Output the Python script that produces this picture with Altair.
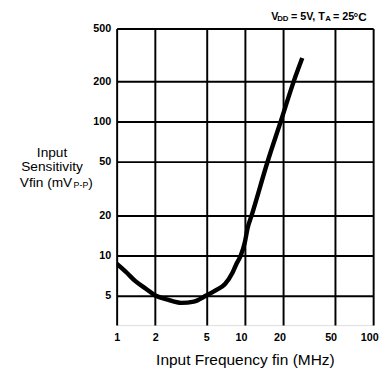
import altair as alt
import pandas as pd

# Data (log-log curve)
freq_mhz = [1, 1.2, 1.4, 1.7, 2, 2.5, 3.2, 4, 5, 6, 7, 8, 8.6, 9.3, 10, 10.5, 11.3, 15, 19, 24, 28]
vfin_mv = [8.65, 7.4, 6.4, 5.6, 5.0, 4.65, 4.4, 4.5, 5.0, 5.5, 6.1, 7.4, 8.65, 10, 12.6, 16, 20, 50, 100, 200, 300]

x_ticks = [1, 2, 5, 10, 20, 50, 100]
y_ticks = [5, 10, 20, 50, 100, 200, 500]

FONT = "Liberation Sans"
W, H = 262, 303

df = pd.DataFrame({"f": freq_mhz, "v": vfin_mv})

base = alt.Chart(df)

line = base.mark_line(color="black", strokeWidth=4.5, interpolate="monotone", clip=True).encode(
    x=alt.X("f:Q",
            scale=alt.Scale(type="log", domain=[1, 100], nice=False),
            axis=alt.Axis(values=x_ticks, format="d", title="Input Frequency fin (MHz)",
                          grid=True, gridColor="black", gridWidth=2, gridOpacity=1,
                          domain=False, ticks=False, labelPadding=7,
                          labelOffset={"condition": {"test": "datum.value >= 10", "value": -4}, "value": 0},
                          labelFontSize=11, labelFontWeight="bold", labelFont=FONT,
                          labelColor="black", labelFlush=False,
                          titleFont=FONT, titleFontSize=15.8, titleFontWeight="normal",
                          titleColor="black", titlePadding=10)),
    y=alt.Y("v:Q",
            scale=alt.Scale(type="log", domain=[3, 500], nice=False),
            axis=alt.Axis(values=y_ticks, format="d", title=None,
                          grid=True, gridColor="black", gridWidth=2, gridOpacity=1,
                          domain=False, ticks=False, labelPadding=6,
                          labelFontSize=11, labelFontWeight="bold", labelFont=FONT,
                          labelColor="black")),
)

one = pd.DataFrame({"k": [0]})


def txt(s, x, y, size, align="left", weight="normal"):
    return alt.Chart(one).mark_text(
        text=s, font=FONT, fontSize=size, align=align, baseline="middle",
        color="black", fontWeight=weight
    ).encode(x=alt.value(x), y=alt.value(y))


# y-axis title (three lines, with subscript), page coords minus plot origin (119, 25)
ytitle = [
    txt("Input", -66, 127, 14, align="center"),
    txt("Sensitivity", -66, 142, 14, align="center"),
    txt("Vfin (mV", -99, 158, 14),
    txt("P-P", -44, 160, 9),
    txt(")", -29, 158, 14),
]

# condition note in top-right
note = [
    txt("V", 158, -12, 11, weight="bold"),
    txt("DD", 164, -10, 8, weight="bold"),
    txt("= 5V, T", 178, -12, 11, weight="bold"),
    txt("A", 213, -10, 8, weight="bold"),
    txt("= 25", 221, -12, 11, weight="bold"),
    txt("°C", 242, -12, 12, weight="bold"),
]

chart = alt.layer(line, *ytitle, *note).properties(
    width=W, height=H,
    autosize=alt.AutoSizeParams(type="none"),
    padding={"left": 111, "top": 17, "right": 7, "bottom": 45},
).configure_view(stroke="black", strokeWidth=2.5).configure(background="white")

chart.save("out.html", embed_options={"renderer": "svg", "actions": False})
